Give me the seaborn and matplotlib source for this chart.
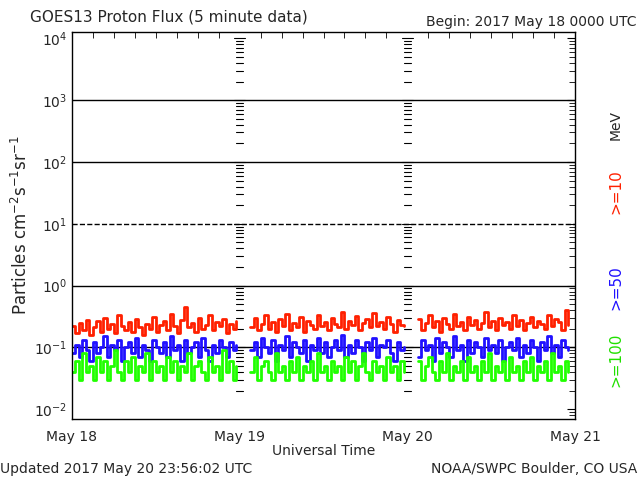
import numpy as np
import pandas as pd
import matplotlib
matplotlib.use("Agg")
import matplotlib.pyplot as plt
import seaborn as sns

# hours since 2017-05-18 00:00, 30-min samples; segments split at data gaps
seg_start_hours = [0.0, 25.5, 49.5]
seg_lengths = [48, 45, 45]

p10 = [0.22,0.17,0.25,0.19,0.28,0.16,0.21,0.27,0.18,0.30,0.20,0.24,0.17,0.33,0.22,0.19,0.26,0.18,0.29,0.21,0.16,0.24,0.20,0.31,
       0.18,0.23,0.27,0.19,0.35,0.22,0.17,0.28,0.45,0.21,0.25,0.18,0.30,0.20,0.23,0.34,0.19,0.26,0.22,0.29,0.17,0.24,0.20,0.27,
       0.21,0.30,0.19,0.24,0.33,0.20,0.26,0.18,0.29,0.22,0.35,0.19,0.25,0.21,0.31,0.18,0.27,0.23,0.20,0.34,0.22,0.26,0.19,0.30,0.24,
       0.21,0.38,0.20,0.27,0.23,0.32,0.19,0.25,0.29,0.21,0.36,0.22,0.26,0.20,0.31,0.24,0.18,0.28,0.23,
       0.22,0.29,0.19,0.25,0.33,0.21,0.27,0.18,0.30,0.24,0.20,0.35,0.22,0.26,0.19,0.31,0.23,0.28,0.20,0.25,0.37,0.21,0.27,0.19,0.30,
       0.23,0.26,0.20,0.34,0.22,0.28,0.19,0.25,0.31,0.21,0.27,0.24,0.20,0.33,0.22,0.29,0.26,0.19,0.40,0.23]
p50 = [0.08,0.11,0.07,0.13,0.09,0.06,0.12,0.08,0.10,0.15,0.07,0.11,0.09,0.13,0.06,0.10,0.12,0.08,0.14,0.07,0.11,0.09,0.06,0.13,
       0.10,0.08,0.12,0.07,0.15,0.09,0.11,0.06,0.13,0.08,0.10,0.12,0.07,0.14,0.09,0.06,0.11,0.08,0.13,0.10,0.07,0.12,0.09,0.11,
       0.09,0.12,0.07,0.14,0.10,0.08,0.13,0.06,0.11,0.09,0.15,0.07,0.12,0.10,0.08,0.13,0.06,0.11,0.09,0.14,0.08,0.12,0.07,0.10,0.13,
       0.09,0.16,0.07,0.11,0.08,0.13,0.10,0.06,0.12,0.09,0.14,0.07,0.11,0.10,0.13,0.08,0.06,0.12,0.09,
       0.10,0.07,0.13,0.09,0.11,0.06,0.14,0.08,0.12,0.10,0.07,0.15,0.09,0.11,0.06,0.13,0.08,0.12,0.10,0.07,0.14,0.09,0.11,0.08,0.13,
       0.06,0.10,0.12,0.09,0.14,0.07,0.11,0.08,0.13,0.10,0.06,0.12,0.09,0.15,0.08,0.11,0.07,0.13,0.10,0.09]
p100 = [0.04,0.06,0.03,0.08,0.04,0.05,0.03,0.07,0.04,0.06,0.03,0.05,0.09,0.04,0.03,0.06,0.04,0.07,0.03,0.05,0.04,0.08,0.03,0.06,
        0.04,0.05,0.03,0.07,0.04,0.06,0.03,0.05,0.04,0.08,0.03,0.05,0.06,0.04,0.03,0.07,0.04,0.05,0.03,0.09,0.04,0.06,0.03,0.05,
        0.04,0.07,0.03,0.05,0.06,0.04,0.03,0.08,0.04,0.05,0.03,0.06,0.04,0.07,0.03,0.05,0.04,0.06,0.03,0.08,0.04,0.05,0.03,0.06,0.04,
        0.05,0.03,0.07,0.04,0.06,0.03,0.05,0.08,0.04,0.03,0.06,0.04,0.05,0.03,0.07,0.04,0.05,0.03,0.06,
        0.04,0.06,0.03,0.05,0.07,0.04,0.03,0.06,0.04,0.08,0.03,0.05,0.04,0.06,0.03,0.07,0.04,0.05,0.03,0.06,0.04,0.08,0.03,0.05,0.04,
        0.06,0.03,0.07,0.04,0.05,0.03,0.06,0.04,0.07,0.03,0.05,0.04,0.06,0.03,0.08,0.04,0.05,0.03,0.06,0.04]

day_labels = ["May 18", "May 19", "May 20", "May 21"]
thresholds = [1e3, 1e2, 1e1, 1e0, 1e-1]
threshold_styles = ["-", "-", "--", "-", "-"]

hours, segs = [], []
for i, (s, n) in enumerate(zip(seg_start_hours, seg_lengths)):
    hours += list(s + 0.5 * np.arange(n))
    segs += [i] * n
rows = []
for name, vals in [(">=10", p10), (">=50", p50), (">=100", p100)]:
    for h, sg, v in zip(hours, segs, vals):
        rows.append((name, h, sg, v))
df = pd.DataFrame(rows, columns=["ch", "hour", "seg", "flux"])

sns.set_style("white")
plt.rcParams['font.family'] = ['DejaVu Sans']
fig = plt.figure(figsize=(6.4, 4.8), dpi=100)
ax = fig.add_axes([0.1125, 0.127, 0.786, 0.806])
colors = {">=10": "#ff2000", ">=50": "#2010ff", ">=100": "#20ff00"}
for ch in [">=10", ">=50", ">=100"]:
    sns.lineplot(data=df[df.ch == ch], x="hour", y="flux", units="seg", estimator=None,
                 color=colors[ch], lw=2.0, drawstyle="steps-post", ax=ax, legend=False)
ax.set_yscale("log")
ax.set_ylim(10**-2.16, 10**4.1)
ax.set_xlim(0, 72)
for t, ls in zip(thresholds, threshold_styles):
    ax.axhline(t, color="black", lw=1, ls=ls, zorder=0.5)
ax.set_xticks([0, 24, 48, 72])
ax.set_xticklabels(day_labels)
ax.set_xticks(np.arange(0, 73, 3), minor=True)
ax.set_yticks([1e-2, 1e-1, 1e0, 1e1, 1e2, 1e3, 1e4])
ax.tick_params(which="both", direction="in", top=True, right=True, color="black", labelsize=10)
ax.tick_params(which="major", length=6)
ax.tick_params(which="minor", length=4)
ax.tick_params(axis="x", which="major", length=0, pad=8)
for sp in ax.spines.values():
    sp.set_color("black"); sp.set_linewidth(1)
# interior tick columns at day boundaries
minor_y = [m * 10.0**e for e in range(-2, 4) for m in range(2, 10)]
for d in [24, 48]:
    for yv in minor_y:
        ax.plot([d - 0.5, d + 0.5], [yv, yv], color="black", lw=0.8, zorder=0.4)
    for yv in [1e-1, 1e0, 1e1, 1e2, 1e3, 1e4]:
        ax.plot([d - 0.8, d + 0.8], [yv, yv], color="black", lw=0.8, zorder=0.4)
ax.set_xlabel("Universal Time", fontsize=10, labelpad=0)
ax.set_ylabel("Particles cm$^{-2}$s$^{-1}$sr$^{-1}$", fontsize=12, labelpad=2)
fig.text(0.047, 0.955, "GOES13 Proton Flux (5 minute data)", fontsize=11)
fig.text(0.995, 0.945, "Begin: 2017 May 18 0000 UTC", fontsize=10, ha="right")
fig.text(0.0, 0.015, "Updated 2017 May 20 23:56:02 UTC", fontsize=10)
fig.text(0.995, 0.015, "NOAA/SWPC Boulder, CO USA", fontsize=10, ha="right")
fig.text(0.962, 0.74, "MeV", rotation=90, fontsize=10, ha="center", va="center")
fig.text(0.962, 0.60, ">=10", rotation=90, fontsize=11, color=colors[">=10"], ha="center", va="center")
fig.text(0.962, 0.40, ">=50", rotation=90, fontsize=11, color=colors[">=50"], ha="center", va="center")
fig.text(0.962, 0.25, ">=100", rotation=90, fontsize=11, color="#20e000", ha="center", va="center")
fig.savefig("out.png", dpi=100)
